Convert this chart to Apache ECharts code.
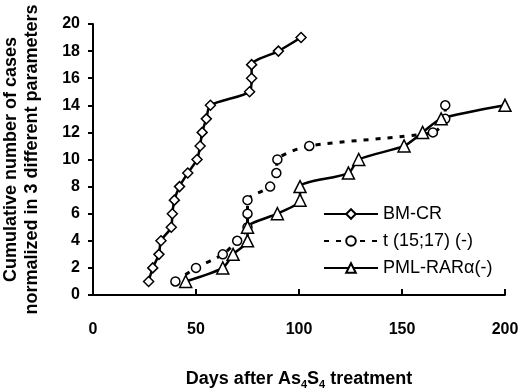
<!DOCTYPE html>
<html>
<head>
<meta charset="utf-8">
<script src="https://cdn.jsdelivr.net/npm/echarts@6/dist/echarts.min.js"></script>
<style>
html,body{margin:0;padding:0;background:#fff;}
#c{width:520px;height:388px;}
</style>
</head>
<body>
<div id="c"></div>
<script>
// Data
const seriesNames = ['BM-CR', 't (15;17) (-)', 'PML-RARα(-)'];
const bmcrDays  = [27, 29, 32, 33, 38, 38.5, 39.5, 42, 46, 50.5, 52, 53, 55, 57, 76, 77, 77, 90, 101];
const bmcrCases = [1, 2, 3, 4, 5, 6, 7, 8, 9, 10, 11, 12, 13, 14, 15, 16, 17, 18, 19];
const tDays  = [40, 50, 63, 70, 75, 75, 75, 86, 89, 89.5, 105, 165, 171, 171];
const tCases = [1, 2, 3, 4, 5, 6, 7, 8, 9, 10, 11, 12, 13, 14];
const pmlDays  = [45, 63, 68, 75, 75, 89.5, 100.5, 100.5, 124, 129, 151, 160, 169, 200];
const pmlCases = [1, 2, 3, 4, 5, 6, 7, 8, 9, 10, 11, 12, 13, 14];
const xTicks = [0, 50, 100, 150, 200];
const yTicks = [0, 2, 4, 6, 8, 10, 12, 14, 16, 18, 20];
const xName = 'Days after As{sub|4}S{sub|4} treatment';
const yName = 'Cumulative number of cases\nnormalized in 3 different parameters';

const zip = (a, b) => a.map((v, i) => [v, b[i]]);
const mainFont = "'Liberation Sans',Arial,sans-serif";

const chart = echarts.init(document.getElementById('c'), null, {renderer: 'canvas'});
const markerStyle = {color: '#fff', borderColor: '#000', borderWidth: 1.5};
chart.setOption({
  animation: false,
  backgroundColor: '#fff',
  grid: {left: 93, right: 15, top: 24, bottom: 93, containLabel: false, outerBoundsMode: 'none'},
  xAxis: {
    type: 'value', min: xTicks[0], max: xTicks[xTicks.length - 1], interval: 50,
    name: xName, nameLocation: 'middle', nameGap: 73,
    nameTextStyle: {
      fontFamily: mainFont, fontWeight: 'bold', fontSize: 18, color: '#000',
      rich: {sub: {fontFamily: mainFont, fontWeight: 'bold', fontSize: 11, color: '#000', verticalAlign: 'bottom', padding: [11, 0, 0, 0]}}
    },
    axisLine: {lineStyle: {color: '#000', width: 2}},
    axisTick: {inside: true, length: 6, lineStyle: {color: '#000', width: 2}},
    axisLabel: {margin: 27, fontFamily: mainFont, fontWeight: 'bold', fontSize: 16, color: '#000'},
    splitLine: {show: false}
  },
  yAxis: {
    type: 'value', min: yTicks[0], max: yTicks[yTicks.length - 1], interval: 2,
    name: yName, nameLocation: 'middle', nameGap: 50, nameRotate: 90,
    nameTextStyle: {fontFamily: mainFont, fontWeight: 'bold', fontSize: 18, color: '#000', lineHeight: 21},
    axisLine: {lineStyle: {color: '#000', width: 2}},
    axisTick: {inside: false, length: 5, lineStyle: {color: '#000', width: 2}},
    axisLabel: {margin: 13, fontFamily: mainFont, fontWeight: 'bold', fontSize: 16, color: '#000'},
    splitLine: {show: false}
  },
  legend: {
    orient: 'vertical', left: 318, top: 200,
    itemWidth: 54, itemHeight: 12, itemGap: 9,
    textStyle: {fontFamily: mainFont, fontSize: 18, color: '#000', lineHeight: 18},
    data: seriesNames
  },
  series: [
    {
      name: seriesNames[0], type: 'line', data: zip(bmcrDays, bmcrCases), smooth: 0.25,
      symbol: 'diamond', symbolSize: 10, itemStyle: markerStyle,
      lineStyle: {color: '#000', width: 2.5}
    },
    {
      name: seriesNames[1], type: 'line', data: zip(tDays, tCases), smooth: 0.25,
      symbol: 'circle', symbolSize: 9, itemStyle: markerStyle,
      lineStyle: {color: '#000', width: 3, type: [5, 7]}
    },
    {
      name: seriesNames[2], type: 'line', data: zip(pmlDays, pmlCases), smooth: 0.25,
      symbol: 'triangle', symbolSize: 12, itemStyle: markerStyle,
      lineStyle: {color: '#000', width: 2.5}
    }
  ]
});
</script>
</body>
</html>
